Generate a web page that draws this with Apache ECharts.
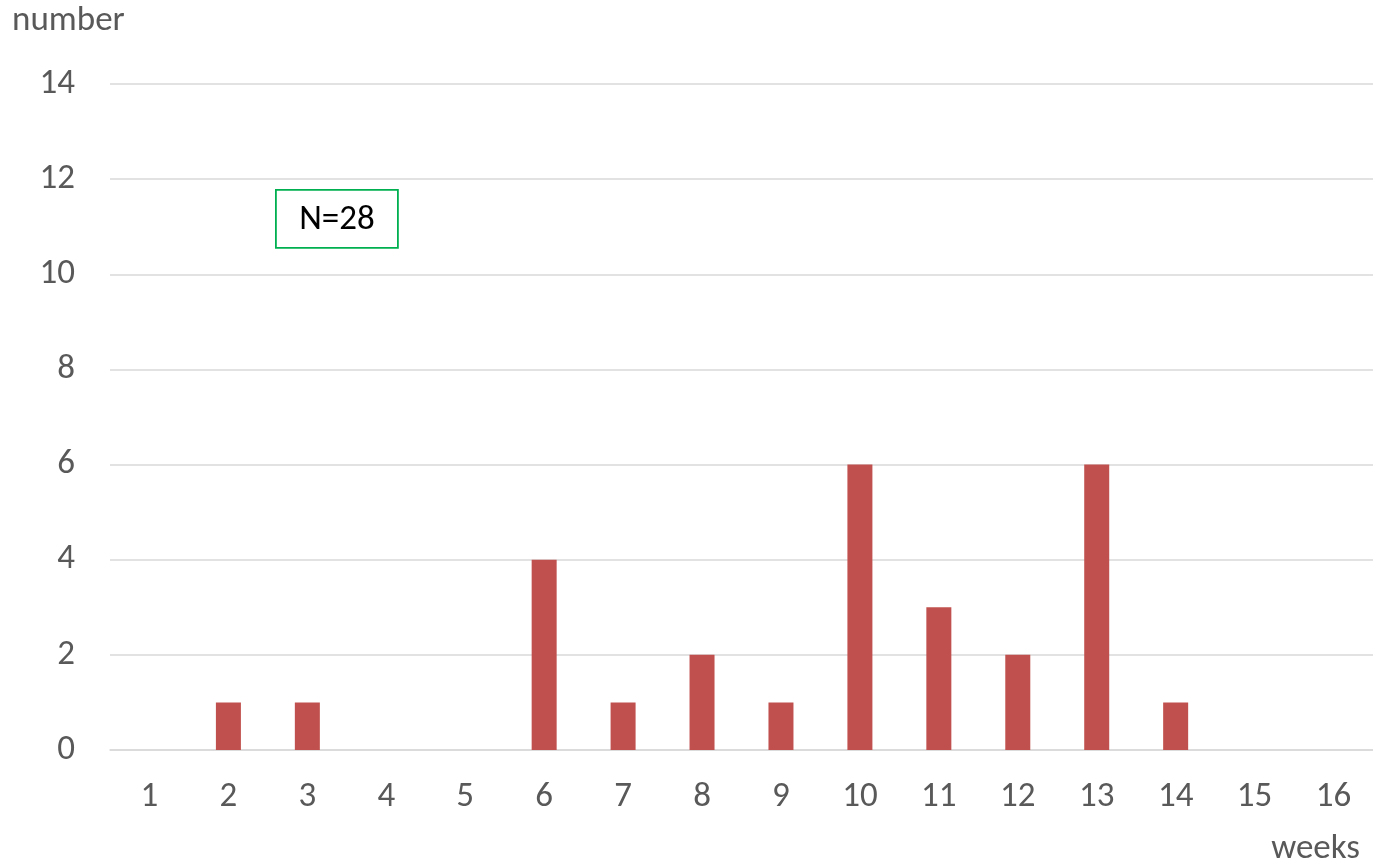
<!DOCTYPE html>
<html>
<head>
<meta charset="utf-8">
<script src="https://cdn.jsdelivr.net/npm/echarts@6/dist/echarts.min.js"></script>
<style>
  html, body { margin: 0; padding: 0; background: #fff; }
  #chart { width: 1373px; height: 865px; }
</style>
</head>
<body>
<div id="chart"></div>
<script>
// Weekly counts (N = 28)
const weeks = ['1', '2', '3', '4', '5', '6', '7', '8', '9', '10', '11', '12', '13', '14', '15', '16'];
const counts = [0, 1, 1, 0, 0, 4, 1, 2, 1, 6, 3, 2, 6, 1, 0, 0];
const yTicks = [0, 2, 4, 6, 8, 10, 12, 14];

const FONT = 'Carlito, Calibri, Lato, sans-serif';
const GREY = '#595959';
const FS = 35;

const chart = echarts.init(document.getElementById('chart'));
chart.setOption({
  animation: false,
  // plot area runs slightly past the right edge of the canvas
  grid: { left: 110, right: -7, top: 84, bottom: 115 },
  xAxis: {
    type: 'category',
    data: weeks,
    axisLine: { lineStyle: { color: '#d9d9d9', width: 1.5 } },
    axisTick: { show: false },
    axisLabel: { color: GREY, fontSize: FS, fontFamily: FONT, margin: 30 }
  },
  yAxis: {
    type: 'value',
    min: yTicks[0],
    max: yTicks[yTicks.length - 1],
    interval: 2,
    axisLine: { show: false },
    axisTick: { show: false },
    splitLine: { lineStyle: { color: '#d9d9d9', width: 1.5 } },
    axisLabel: { color: GREY, fontSize: FS, fontFamily: FONT, margin: 35 }
  },
  series: [{
    type: 'bar',
    data: counts,
    barWidth: 25,
    itemStyle: { color: '#C0504D', borderWidth: 0 }
  }],
  graphic: [
    {
      type: 'text', left: 12, top: 4,
      style: { text: 'number', fill: GREY, fontSize: FS, fontFamily: FONT }
    },
    {
      type: 'text', right: 13, top: 832,
      style: { text: 'weeks', fill: GREY, fontSize: FS, fontFamily: FONT }
    },
    {
      type: 'group', left: 275, top: 189,
      children: [
        {
          type: 'rect',
          shape: { x: 0, y: 0, width: 122, height: 58 },
          style: { fill: '#fff', stroke: '#00B050', lineWidth: 1.8 }
        },
        {
          type: 'text', x: 61, y: 30,
          style: {
            text: 'N=28', fill: '#000', fontSize: FS, fontFamily: FONT,
            align: 'center', verticalAlign: 'middle'
          }
        }
      ]
    }
  ]
});
</script>
</body>
</html>
